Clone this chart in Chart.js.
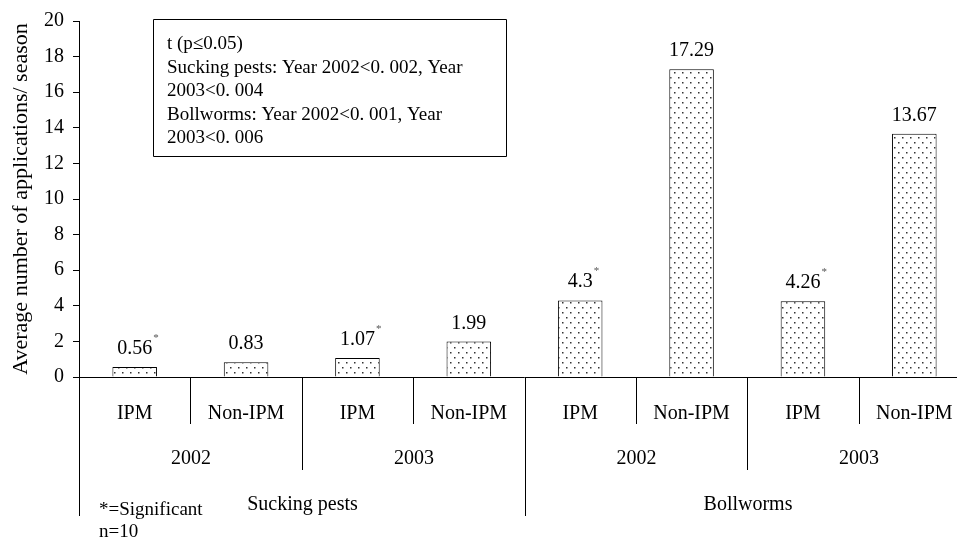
<!DOCTYPE html>
<html>
<head>
<meta charset="utf-8">
<script src="https://cdn.jsdelivr.net/npm/chart.js@4.4.1/dist/chart.umd.min.js"></script>
<style>
  body { margin: 0; background: #fff; }
  #wrap { width: 957px; height: 540px; overflow: hidden; position: relative; }
</style>
</head>
<body>
<div id="wrap"><canvas id="myChart" width="980" height="540"></canvas></div>
<script>
// data
var treatments = ['IPM', 'Non-IPM', 'IPM', 'Non-IPM', 'IPM', 'Non-IPM', 'IPM', 'Non-IPM'];
var years = ['2002', '2003', '2002', '2003'];
var pests = ['Sucking pests', 'Bollworms'];
var values = [0.56, 0.83, 1.07, 1.99, 4.3, 17.29, 4.26, 13.67];
var significant = [true, false, true, false, true, false, true, false];
var yTicks = [0, 2, 4, 6, 8, 10, 12, 14, 16, 18, 20];
var boxLines = ['t (p\u22640.05)', 'Sucking pests: Year 2002<0. 002, Year', '2003<0. 004',
  'Bollworms: Year 2002<0. 001, Year', '2003<0. 006'];
var notes = ['*=Significant', 'n=10'];

var FONT = "'Liberation Serif', 'Times New Roman', serif";

// dotted fill
function dotPattern() {
  var c = document.createElement('canvas');
  c.width = 8; c.height = 10;
  var g = c.getContext('2d');
  g.fillStyle = '#fff';
  g.fillRect(0, 0, 8, 10);
  g.fillStyle = '#333';
  g.fillRect(2, 2, 1.5, 1.5);
  g.fillRect(6, 7, 1.5, 1.5);
  return document.getElementById('myChart').getContext('2d').createPattern(c, 'repeat');
}

// value labels + multi level axis + notes
var extras = {
  id: 'extras',
  afterDraw: function (chart) {
    var ctx = chart.ctx;
    var area = chart.chartArea;
    var x = chart.scales.x;
    var bottom = area.bottom;
    ctx.save();
    ctx.strokeStyle = '#000';
    ctx.lineWidth = 1;
    ctx.fillStyle = '#000';

    // bar values
    var meta = chart.getDatasetMeta(0);
    meta.data.forEach(function (bar, i) {
      var txt = String(values[i]);
      ctx.font = '20px ' + FONT;
      ctx.textAlign = 'center';
      ctx.textBaseline = 'alphabetic';
      ctx.fillStyle = '#000';
      ctx.fillText(txt, bar.x, bar.y - 13);
      if (significant[i]) {
        var w = ctx.measureText(txt).width;
        ctx.font = '11px ' + FONT;
        ctx.textAlign = 'left';
        ctx.fillStyle = '#555';
        ctx.fillText('*', bar.x + w / 2 + 1, bar.y - 26);
      }
    });
    ctx.fillStyle = '#000';

    // x axis line
    ctx.beginPath();
    ctx.moveTo(area.left, bottom + 0.5);
    ctx.lineTo(area.right, bottom + 0.5);
    ctx.stroke();

    var step = x.getPixelForValue(1) - x.getPixelForValue(0);
    function edge(i) { return Math.round(x.getPixelForValue(i) - step / 2) + 0.5; }
    function vline(px, y2) {
      ctx.beginPath();
      ctx.moveTo(px, bottom);
      ctx.lineTo(px, y2);
      ctx.stroke();
    }

    // separators
    for (var i = 1; i < treatments.length; i++) {
      if (i % 4 === 0) vline(edge(i), bottom + 139);
      else if (i % 2 === 0) vline(edge(i), bottom + 93);
      else vline(edge(i), bottom + 47);
    }
    vline(area.left + 0.5, bottom + 139);

    ctx.font = '20px ' + FONT;
    ctx.textAlign = 'center';
    ctx.textBaseline = 'middle';
    treatments.forEach(function (t, i) {
      ctx.fillText(t, x.getPixelForValue(i), bottom + 37);
    });
    years.forEach(function (yr, i) {
      ctx.fillText(yr, (edge(i * 2) + edge(i * 2 + 2)) / 2, bottom + 82);
    });
    pests.forEach(function (p, i) {
      ctx.fillText(p, (edge(i * 4) + edge(i * 4 + 4)) / 2, bottom + 128);
    });

    // notes
    ctx.font = '19px ' + FONT;
    ctx.textAlign = 'left';
    ctx.textBaseline = 'alphabetic';
    ctx.fillText(notes[0], 99, 515);
    ctx.fillText(notes[1], 99, 537);

    // stats box
    ctx.beginPath();
    ctx.rect(153.5, 19.5, 353, 137);
    ctx.stroke();
    boxLines.forEach(function (l, i) {
      ctx.fillText(l, 167, 49 + i * 23.5);
    });
    ctx.restore();
  }
};

var ctx = document.getElementById('myChart').getContext('2d');
var myChart = new Chart(ctx, {
  type: 'bar',
  data: {
    labels: treatments,
    datasets: [{
      data: values,
      backgroundColor: dotPattern(),
      borderColor: '#000',
      borderWidth: 1,
      barPercentage: 0.4,
      categoryPercentage: 1
    }]
  },
  options: {
    responsive: false,
    animation: false,
    events: [],
    layout: { padding: { top: 19, right: 10, bottom: 163, left: 0 } },
    plugins: { legend: { display: false }, tooltip: { enabled: false } },
    scales: {
      x: { display: false },
      y: {
        min: 0,
        max: 20,
        afterBuildTicks: function (scale) {
          scale.ticks = yTicks.map(function (v) { return { value: v }; });
        },
        afterFit: function (scale) { scale.width = 79; },
        border: { color: '#000', width: 1 },
        grid: { drawOnChartArea: false, color: '#000', tickLength: 6 },
        ticks: { color: '#000', padding: 9, font: { family: FONT, size: 20 } },
        title: {
          display: true,
          text: 'Average number of applications/ season',
          color: '#000',
          padding: { top: 8, bottom: 0 },
          font: { family: FONT, size: 22 }
        }
      }
    }
  },
  plugins: [extras]
});
</script>
</body>
</html>
